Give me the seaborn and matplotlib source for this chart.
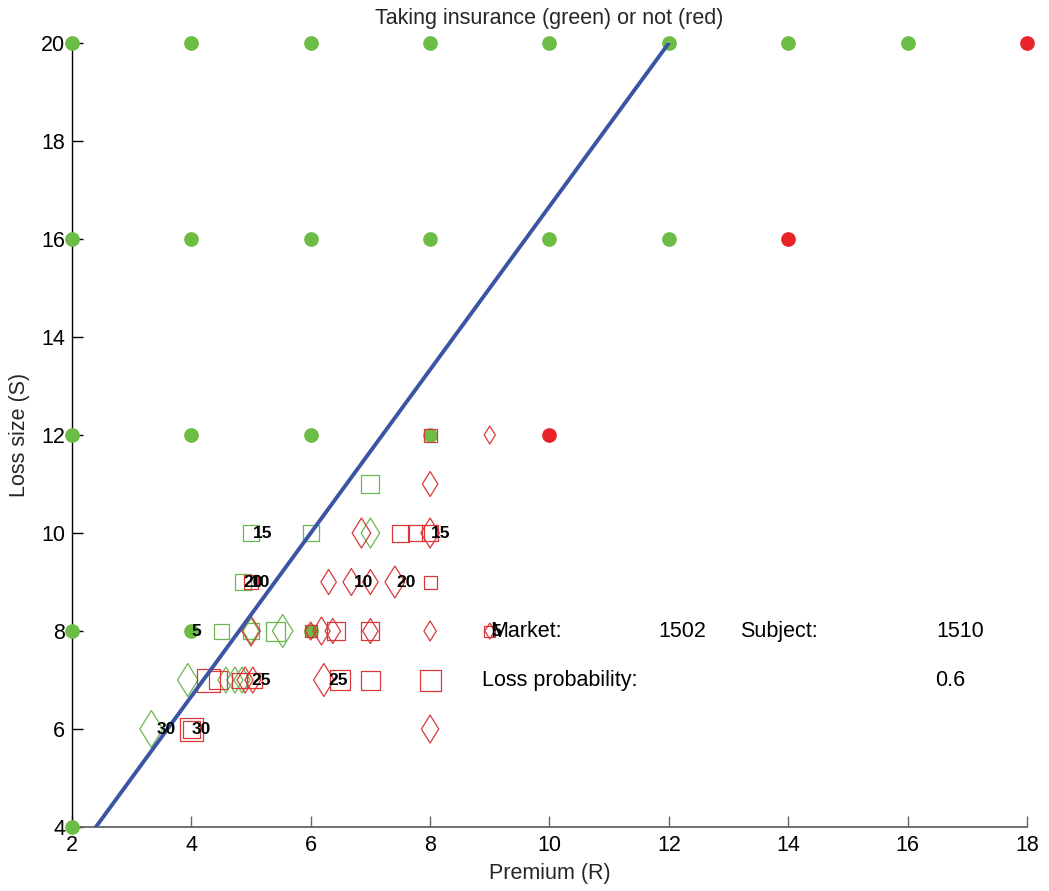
import numpy as np
import pandas as pd
import matplotlib
matplotlib.use("Agg")
import matplotlib.pyplot as plt
from matplotlib.path import Path
import seaborn as sns

# ---------------- data ----------------
green_dot_R = [2, 4, 6, 8, 10, 12, 14, 16, 2, 4, 6, 8, 10, 12, 2, 4, 6, 8, 2, 4, 6, 2]
green_dot_S = [20] * 8 + [16] * 6 + [12] * 4 + [8] * 3 + [4]
red_dot_R = [18, 14, 10]
red_dot_S = [20, 16, 12]

# open markers: premium, loss size, relative marker size
green_sq_R = [5.0, 6.0, 7.0, 4.87, 4.5, 5.0, 5.41]
green_sq_S = [10, 10, 11, 9, 8, 8, 8]
green_sq_n = [16, 16, 18, 16, 15, 16, 19]

green_dm_R = [7.0, 5.0, 5.53, 3.94, 4.58, 4.73, 4.85, 3.33]
green_dm_S = [10, 8, 8, 7, 7, 7, 7, 6]
green_dm_n = [30, 26, 33, 33, 26, 26, 26, 37]

red_sq_R = [8.0, 6.0, 6.42, 7.0, 9.0, 5.0, 4.28, 4.45, 4.8, 5.05, 6.49, 7.0, 8.0, 4.0, 4.0, 7.5, 7.77, 8.0, 8.0]
red_sq_S = [12, 8, 8, 8, 8, 9, 7, 7, 7, 7, 7, 7, 7, 6, 6, 10, 10, 10, 9]
red_sq_n = [13, 12, 18, 18, 11, 14, 23, 18, 15, 15, 20, 19, 21, 23, 17, 17, 16, 16, 13]

red_dm_R = [9.0, 8.0, 6.85, 8.0, 6.3, 6.68, 7.0, 7.41, 5.0, 6.0, 6.18, 6.37, 7.0, 8.0, 9.0, 4.9, 5.03, 6.22, 8.0]
red_dm_S = [12, 11, 10, 10, 9, 9, 9, 9, 8, 8, 8, 8, 8, 8, 8, 7, 7, 7, 6]
red_dm_n = [18, 25, 30, 30, 25, 27, 25, 32, 30, 18, 28, 25, 25, 20, 16, 26, 26, 33, 28]

green_lbl = ["5", "15", "20", "25", "30"]
green_lbl_R = [4.0, 5.03, 4.88, 5.0, 3.42]
green_lbl_S = [8, 10, 9, 7, 6]
red_lbl = ["10", "5", "15", "10", "20", "25", "30"]
red_lbl_R = [5.0, 9.03, 8.02, 6.72, 7.43, 6.3, 4.0]
red_lbl_S = [9, 8, 10, 9, 9, 7, 6]

line_R = [2.4, 12.0]
line_S = [4.0, 20.0]

info_text = ["Market:", "1502", "Subject:", "1510", "Loss probability:", "0.6"]
info_R = [9.0, 11.82, 13.19, 16.49, 8.87, 16.46]
info_S = [8, 8, 8, 8, 7, 7]

x_ticks = [2, 4, 6, 8, 10, 12, 14, 16, 18]
y_ticks = [4, 6, 8, 10, 12, 14, 16, 18, 20]

# ---------------- style ----------------
sns.set_style("white")
plt.rcParams["font.family"] = ["Liberation Sans", "DejaVu Sans"]

GREEN = "#6cbd45"
RED = "#e8232a"
RED_OPEN = "#d9383a"
GREEN_OPEN = "#6bb84f"
BLUE = "#3a55a4"

fig = plt.figure(figsize=(10.49, 8.91), dpi=100)
ax = fig.add_axes([0.0686, 0.0718, 0.9104, 0.8799])

diamond = Path([(0, -1), (0.62, 0), (0, 1), (-0.62, 0), (0, -1)],
               [Path.MOVETO, Path.LINETO, Path.LINETO, Path.LINETO, Path.CLOSEPOLY])


def area(px):
    return (np.asarray(px, float) * 0.72) ** 2


sns.scatterplot(x=green_dot_R, y=green_dot_S, ax=ax, s=112, color=GREEN,
                edgecolor=GREEN, linewidth=0, clip_on=False, zorder=3)
sns.scatterplot(x=red_dot_R, y=red_dot_S, ax=ax, s=112, color=RED,
                edgecolor=RED, linewidth=0, clip_on=False, zorder=3)

for R, S, n, mk, col in [
    (green_sq_R, green_sq_S, green_sq_n, "s", GREEN_OPEN),
    (green_dm_R, green_dm_S, green_dm_n, diamond, GREEN_OPEN),
    (red_sq_R, red_sq_S, red_sq_n, "s", RED_OPEN),
    (red_dm_R, red_dm_S, red_dm_n, diamond, RED_OPEN),
]:
    ax.scatter(R, S, s=area(n), marker=mk, facecolors="none",
               edgecolors=col, linewidths=0.9, zorder=4)

sns.lineplot(x=line_R, y=line_S, ax=ax, color=BLUE, linewidth=2.8, zorder=5)

for t, r, s in zip(green_lbl + red_lbl, green_lbl_R + red_lbl_R, green_lbl_S + red_lbl_S):
    ax.text(r, s, t, fontsize=12.5, fontweight="bold", ha="left", va="center",
            color="black", zorder=6)

for t, r, s in zip(info_text, info_R, info_S):
    ax.text(r, s, t, fontsize=15.5, ha="left", va="center", color="black", zorder=6)

ax.set_xlim(2, 18)
ax.set_ylim(4, 20)
ax.set_xticks(x_ticks)
ax.set_yticks(y_ticks)
ax.set_xticklabels([str(v) for v in x_ticks])
ax.set_yticklabels([str(v) for v in y_ticks])
ax.tick_params(axis="both", direction="in", length=8, width=1, labelsize=15.5,
               colors="black")
ax.tick_params(axis="x", pad=6, color="#666666")
ax.tick_params(axis="y", pad=5)
ax.tick_params(left=True, bottom=True)

for sp in ["top", "right"]:
    ax.spines[sp].set_visible(False)
ax.spines["left"].set_color("black")
ax.spines["left"].set_linewidth(1.0)
ax.spines["bottom"].set_color("#666666")
ax.spines["bottom"].set_linewidth(1.3)

ax.set_xlabel("Premium (R)", fontsize=15.5, labelpad=5)
ax.set_ylabel("Loss size (S)", fontsize=15.5, labelpad=8)
ax.set_title("Taking insurance (green) or not (red)", fontsize=15.5, pad=14)

fig.savefig("out.png", dpi=100)
